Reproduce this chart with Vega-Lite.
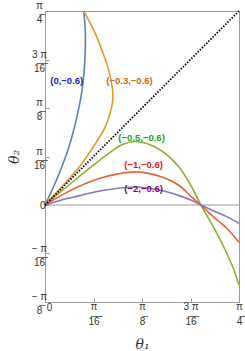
{
 "$schema": "https://vega.github.io/schema/vega-lite/v6.json",
 "width": 194,
 "height": 291,
 "autosize": {"type": "none"},
 "padding": {"left": 45, "top": 11, "right": 6, "bottom": 49},
 "background": "white",
 "config": {"view": {"stroke": "#999999", "strokeWidth": 1}, "font": "Liberation Sans"},
 "datasets": {
  "curves": [
   {"s":"(0,−0.6)","i":0,"t1":0,"t2":0},
   {"s":"(0,−0.6)","i":1,"t1":0.037,"t2":0.079},
   {"s":"(0,−0.6)","i":2,"t1":0.069,"t2":0.157},
   {"s":"(0,−0.6)","i":3,"t1":0.097,"t2":0.236},
   {"s":"(0,−0.6)","i":4,"t1":0.119,"t2":0.314},
   {"s":"(0,−0.6)","i":5,"t1":0.137,"t2":0.393},
   {"s":"(0,−0.6)","i":6,"t1":0.151,"t2":0.471},
   {"s":"(0,−0.6)","i":7,"t1":0.159,"t2":0.550},
   {"s":"(0,−0.6)","i":8,"t1":0.163,"t2":0.628},
   {"s":"(0,−0.6)","i":9,"t1":0.163,"t2":0.707},
   {"s":"(0,−0.6)","i":10,"t1":0.157,"t2":0.785},
   {"s":"(−0.3,−0.6)","i":0,"t1":0,"t2":0},
   {"s":"(−0.3,−0.6)","i":1,"t1":0.073,"t2":0.079},
   {"s":"(−0.3,−0.6)","i":2,"t1":0.141,"t2":0.157},
   {"s":"(−0.3,−0.6)","i":3,"t1":0.196,"t2":0.236},
   {"s":"(−0.3,−0.6)","i":4,"t1":0.243,"t2":0.314},
   {"s":"(−0.3,−0.6)","i":5,"t1":0.269,"t2":0.393},
   {"s":"(−0.3,−0.6)","i":6,"t1":0.275,"t2":0.432},
   {"s":"(−0.3,−0.6)","i":7,"t1":0.273,"t2":0.471},
   {"s":"(−0.3,−0.6)","i":8,"t1":0.257,"t2":0.550},
   {"s":"(−0.3,−0.6)","i":9,"t1":0.230,"t2":0.628},
   {"s":"(−0.3,−0.6)","i":10,"t1":0.198,"t2":0.707},
   {"s":"(−0.3,−0.6)","i":11,"t1":0.157,"t2":0.785},
   {"s":"(−0.5,−0.6)","i":0,"t1":0,"t2":0},
   {"s":"(−0.5,−0.6)","i":1,"t1":0.098,"t2":0.082},
   {"s":"(−0.5,−0.6)","i":2,"t1":0.196,"t2":0.161},
   {"s":"(−0.5,−0.6)","i":3,"t1":0.270,"t2":0.218},
   {"s":"(−0.5,−0.6)","i":4,"t1":0.314,"t2":0.245},
   {"s":"(−0.5,−0.6)","i":5,"t1":0.363,"t2":0.257},
   {"s":"(−0.5,−0.6)","i":6,"t1":0.412,"t2":0.249},
   {"s":"(−0.5,−0.6)","i":7,"t1":0.471,"t2":0.220},
   {"s":"(−0.5,−0.6)","i":8,"t1":0.540,"t2":0.157},
   {"s":"(−0.5,−0.6)","i":9,"t1":0.589,"t2":0.082},
   {"s":"(−0.5,−0.6)","i":10,"t1":0.631,"t2":0},
   {"s":"(−0.5,−0.6)","i":11,"t1":0.681,"t2":-0.088},
   {"s":"(−0.5,−0.6)","i":12,"t1":0.723,"t2":-0.169},
   {"s":"(−0.5,−0.6)","i":13,"t1":0.762,"t2":-0.255},
   {"s":"(−0.5,−0.6)","i":14,"t1":0.785,"t2":-0.324},
   {"s":"(−1,−0.6)","i":0,"t1":0,"t2":0},
   {"s":"(−1,−0.6)","i":1,"t1":0.088,"t2":0.051},
   {"s":"(−1,−0.6)","i":2,"t1":0.137,"t2":0.075},
   {"s":"(−1,−0.6)","i":3,"t1":0.216,"t2":0.106},
   {"s":"(−1,−0.6)","i":4,"t1":0.295,"t2":0.126},
   {"s":"(−1,−0.6)","i":5,"t1":0.373,"t2":0.134},
   {"s":"(−1,−0.6)","i":6,"t1":0.471,"t2":0.114},
   {"s":"(−1,−0.6)","i":7,"t1":0.540,"t2":0.081},
   {"s":"(−1,−0.6)","i":8,"t1":0.593,"t2":0.033},
   {"s":"(−1,−0.6)","i":9,"t1":0.631,"t2":0},
   {"s":"(−1,−0.6)","i":10,"t1":0.681,"t2":-0.047},
   {"s":"(−1,−0.6)","i":11,"t1":0.736,"t2":-0.094},
   {"s":"(−1,−0.6)","i":12,"t1":0.785,"t2":-0.151},
   {"s":"(−2,−0.6)","i":0,"t1":0,"t2":0},
   {"s":"(−2,−0.6)","i":1,"t1":0.088,"t2":0.026},
   {"s":"(−2,−0.6)","i":2,"t1":0.137,"t2":0.037},
   {"s":"(−2,−0.6)","i":3,"t1":0.202,"t2":0.053},
   {"s":"(−2,−0.6)","i":4,"t1":0.275,"t2":0.065},
   {"s":"(−2,−0.6)","i":5,"t1":0.365,"t2":0.073},
   {"s":"(−2,−0.6)","i":6,"t1":0.471,"t2":0.059},
   {"s":"(−2,−0.6)","i":7,"t1":0.540,"t2":0.039},
   {"s":"(−2,−0.6)","i":8,"t1":0.593,"t2":0.019},
   {"s":"(−2,−0.6)","i":9,"t1":0.631,"t2":0},
   {"s":"(−2,−0.6)","i":10,"t1":0.681,"t2":-0.023},
   {"s":"(−2,−0.6)","i":11,"t1":0.736,"t2":-0.047},
   {"s":"(−2,−0.6)","i":12,"t1":0.785,"t2":-0.074}
  ],
  "labels": [
   {"s":"(0,−0.6)","t1":0.088,"t2":0.502},
   {"s":"(−0.3,−0.6)","t1":0.342,"t2":0.500},
   {"s":"(−0.5,−0.6)","t1":0.391,"t2":0.271},
   {"s":"(−1,−0.6)","t1":0.399,"t2":0.160},
   {"s":"(−2,−0.6)","t1":0.399,"t2":0.066}
  ],
  "diag": [{"t1":0,"t2":0},{"t1":0.7854,"t2":0.7854}],
  "zero": [{"t2":0}]
 },
 "layer": [
  {
   "data": {"name": "zero"},
   "mark": {"type": "rule", "color": "#999999", "strokeWidth": 1},
   "encoding": {"y": {"field": "t2", "type": "quantitative"}}
  },
  {
   "data": {"name": "curves"},
   "mark": {"type": "line", "strokeWidth": 1.6, "interpolate": "catmull-rom"},
   "encoding": {
    "x": {"field": "t1", "type": "quantitative",
     "scale": {"domain": [0, 0.7854], "nice": false, "zero": false},
     "axis": {"title": "θ₁", "values": [0, 0.19635, 0.3927, 0.58905, 0.7854],
      "labelExpr": "datum.value < 0.01 ? '0' : datum.value < 0.2 ? ['π','1\u03056\u0305'] : datum.value < 0.4 ? ['π','8\u0305'] : datum.value < 0.6 ? ['3 π','1\u03056\u0305'] : ['π','4\u0305']",
      "domain": false, "grid": false, "tickSize": -4, "tickColor": "#999999",
      "labelFontSize": 10, "labelColor": "#333333", "labelLineHeight": 15,
      "labelPadding": {"condition": {"test": "datum.value < 0.01", "value": 4}, "value": 3},
      "labelOffset": {"condition": {"test": "datum.value < 0.01", "value": 4}, "value": 0},
      "labelBaseline": "top", "labelFlush": false, "labelOverlap": false,
      "titleFont": "DejaVu Serif", "titleFontStyle": "italic", "titleFontWeight": "normal", "titleFontSize": 14, "titleColor": "#333333", "titlePadding": 11}},
    "y": {"field": "t2", "type": "quantitative",
     "scale": {"domain": [-0.3927, 0.7854], "nice": false, "zero": false},
     "axis": {"title": "θ₂", "values": [-0.3927, -0.19635, 0, 0.19635, 0.3927, 0.58905, 0.7854],
      "labelExpr": "datum.value > 0.78 ? ['π','4\u0305'] : datum.value > 0.58 ? ['3 π','1\u03056\u0305'] : datum.value > 0.39 ? ['π','8\u0305'] : datum.value > 0.19 ? ['π','1\u03056\u0305'] : datum.value > -0.01 ? '0' : datum.value > -0.2 ? ['− π','   1\u03056\u0305'] : ['− π','   8\u0305']",
      "domain": false, "grid": false, "tickSize": -4, "tickColor": "#999999",
      "labelFontSize": 10, "labelColor": "#333333", "labelLineHeight": 14,
      "labelPadding": {"condition": {"test": "abs(datum.value) < 0.01", "value": 4}, "value": 10},
      "labelAlign": {"condition": {"test": "abs(datum.value) < 0.01", "value": "right"}, "value": "center"},
      "labelOffset": {"condition": {"test": "abs(datum.value) < 0.01", "value": 0}, "value": -5.5},
      "labelBaseline": "middle", "labelFlush": false, "labelOverlap": false,
      "titleFont": "DejaVu Serif", "titleFontStyle": "italic", "titleFontWeight": "normal", "titleFontSize": 14, "titleColor": "#333333", "titlePadding": 10}},
    "color": {"field": "s", "type": "nominal", "legend": null,
     "scale": {"domain": ["(0,−0.6)", "(−0.3,−0.6)", "(−0.5,−0.6)", "(−1,−0.6)", "(−2,−0.6)"],
      "range": ["#5E81B5", "#E19C24", "#8FB032", "#EB6235", "#8778B3"]}},
    "detail": {"field": "s"},
    "order": {"field": "i", "type": "quantitative"}
   }
  },
  {
   "data": {"name": "diag"},
   "mark": {"type": "line", "color": "black", "strokeDash": [1.5, 1.5], "strokeWidth": 1.8},
   "encoding": {"x": {"field": "t1", "type": "quantitative"}, "y": {"field": "t2", "type": "quantitative"}}
  },
  {
   "data": {"name": "labels"},
   "mark": {"type": "text", "fontWeight": "bold", "fontSize": 9.5, "font": "Liberation Sans"},
   "encoding": {
    "x": {"field": "t1", "type": "quantitative"},
    "y": {"field": "t2", "type": "quantitative"},
    "text": {"field": "s"},
    "color": {"field": "s", "type": "nominal", "legend": null,
     "scale": {"domain": ["(0,−0.6)", "(−0.3,−0.6)", "(−0.5,−0.6)", "(−1,−0.6)", "(−2,−0.6)"],
      "range": ["#1A1AC8", "#C8690F", "#1EA51E", "#F01414", "#800080"]}}
   }
  }
 ],
 "resolve": {"scale": {"color": "independent"}}
}
